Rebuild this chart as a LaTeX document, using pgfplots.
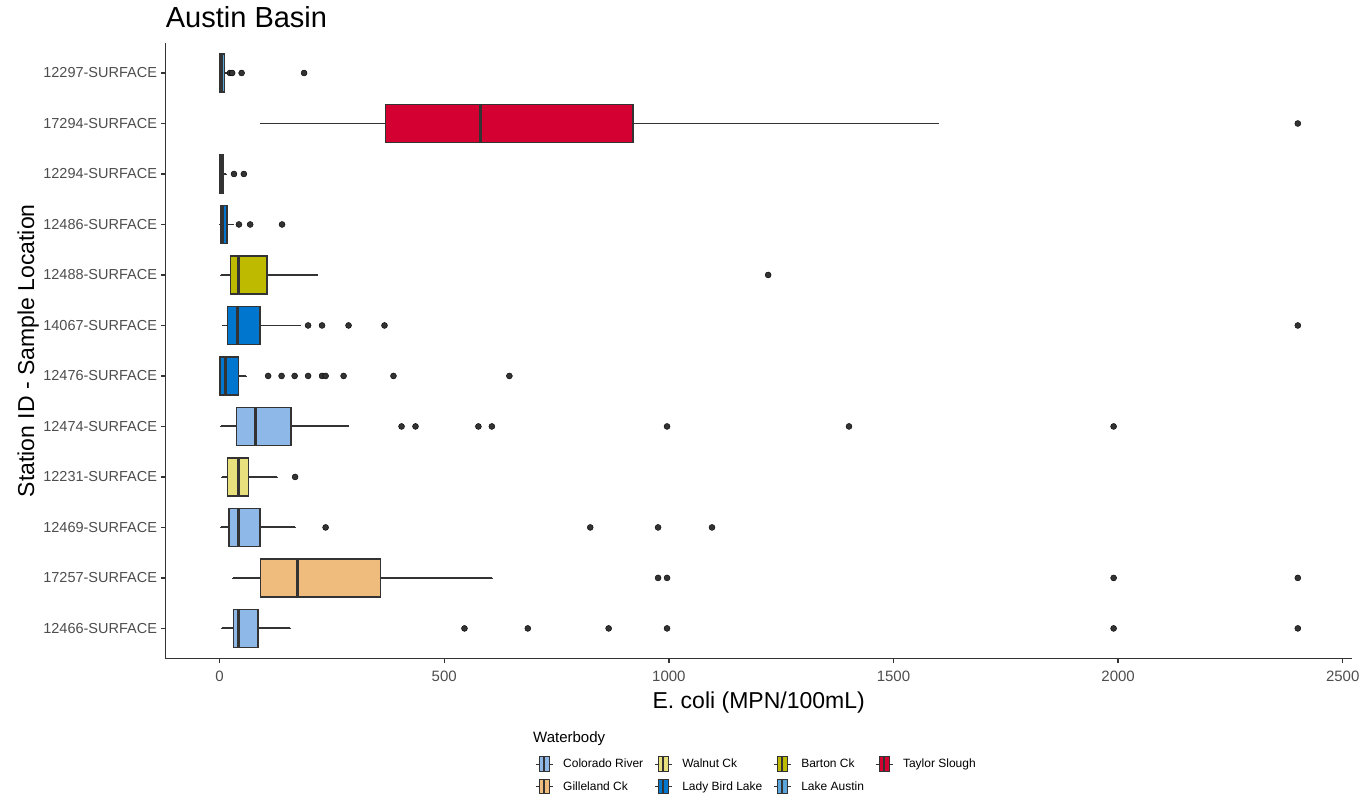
\documentclass[border=0pt]{standalone}
\usepackage{fontspec}
\setmainfont{Liberation Sans}
\usepackage{pgfplots}
\pgfplotsset{compat=1.18}
\usepgfplotslibrary{statistics}
\definecolor{ggd}{HTML}{333333}
\definecolor{gg30}{HTML}{4D4D4D}
\definecolor{cCR}{HTML}{8DB8E8}
\definecolor{cGC}{HTML}{EFBC7D}
\definecolor{cWC}{HTML}{E8E07D}
\definecolor{cLB}{HTML}{0076CE}
\definecolor{cBC}{HTML}{BDBA00}
\definecolor{cLA}{HTML}{5AA6DC}
\definecolor{cTS}{HTML}{D50032}
\pgfplotsset{
  ggbox/.style={draw=ggd, line width=1.5pt, fill=#1, forget plot,
    boxplot/box extend=0.75, boxplot/whisker extend=0.01,
    boxplot/every box/.style={line width=1.5pt},
    boxplot/every whisker/.style={line width=1.9pt},
    boxplot/every median/.style={line width=3pt}},
  ggout/.style={only marks, mark=*, mark size=3pt,
    mark options={fill=ggd, draw=none}, forget plot},
}
\begin{document}
\begin{tikzpicture}
\path (-165.7pt,-142pt) rectangle (1206.3pt,658.7pt);
\begin{axis}[
  at={(0pt,0pt)}, anchor=south west,
  scale only axis, width=1186pt, height=616pt,
  clip=false,
  xmin=-120, xmax=2520, ymin=0.4, ymax=12.6,
  axis x line*=bottom, axis y line*=left,
  axis line style={draw=ggd, line width=1.4pt, -},
  xtick={0,500,1000,1500,2000,2500},
  ytick={1,2,3,4,5,6,7,8,9,10,11,12},
  yticklabels={12466-SURFACE,17257-SURFACE,12469-SURFACE,12231-SURFACE,12474-SURFACE,12476-SURFACE,14067-SURFACE,12488-SURFACE,12486-SURFACE,12294-SURFACE,17294-SURFACE,12297-SURFACE},
  tick align=outside, major tick length=4.5pt,
  tick style={draw=ggd, line width=1.4pt},
  minor tick num=0,
  /pgf/number format/assume math mode=true,
  /pgf/number format/1000 sep={},
  ticklabel style={font=\fontsize{14.5}{17}\selectfont, text=gg30},
  yticklabel style={anchor=east, inner sep=0pt, xshift=-4pt},
  xticklabel style={anchor=north, inner sep=0pt, yshift=-8pt, font=\fontsize{15}{18}\selectfont},
  title={Austin Basin},
  title style={at={(axis description cs:0,1.0142)}, anchor=base west, inner sep=0pt, font=\fontsize{29}{34}\selectfont},
  xlabel={E. coli (MPN/100mL)},
  xlabel style={at={(axis description cs:0.5,-0.0812)}, anchor=base, inner sep=0pt, font=\fontsize{23}{27}\selectfont},
  ylabel={Station ID - Sample Location},
  ylabel style={at={(axis description cs:-0.1110,0.5)}, anchor=base, inner sep=0pt, font=\fontsize{23}{27}\selectfont},
  legend columns=4,
  legend cell align=left,
  legend style={at={(axis description cs:0.3114,-0.1575)}, anchor=north west,
    draw=none, fill=none, inner sep=0pt,
    font=\fontsize{12}{14}\selectfont, row sep=6pt,
    /tikz/every odd column/.append style={column sep=8pt},
    /tikz/every even column/.append style={column sep=9pt}},
]
% 12466 (Colorado River)
\addplot[ggbox=cCR, boxplot prepared={lower whisker=6, lower quartile=31, median=42, upper quartile=86, upper whisker=157, draw position=1}] coordinates {};
\addplot[ggout] coordinates {(545,1) (686,1) (866,1) (996,1) (1990,1) (2400,1)};
% 17257 (Gilleland Ck)
\addplot[ggbox=cGC, boxplot prepared={lower whisker=30, lower quartile=91, median=173, upper quartile=358, upper whisker=607, draw position=2}] coordinates {};
\addplot[ggout] coordinates {(976,2) (996,2) (1990,2) (2400,2)};
% 12469 (Colorado River)
\addplot[ggbox=cCR, boxplot prepared={lower whisker=2, lower quartile=21, median=42, upper quartile=90, upper whisker=168, draw position=3}] coordinates {};
\addplot[ggout] coordinates {(236,3) (825,3) (976,3) (1096,3)};
% 12231 (Walnut Ck)
\addplot[ggbox=cWC, boxplot prepared={lower whisker=5, lower quartile=18, median=42, upper quartile=64, upper whisker=128, draw position=4}] coordinates {};
\addplot[ggout] coordinates {(168,4)};
% 12474 (Colorado River)
\addplot[ggbox=cCR, boxplot prepared={lower whisker=2, lower quartile=38, median=81, upper quartile=159, upper whisker=287, draw position=5}] coordinates {};
\addplot[ggout] coordinates {(405,5) (436,5) (576,5) (606,5) (996,5) (1401,5) (1990,5)};
% 12476 (Lady Bird Lake)
\addplot[ggbox=cLB, boxplot prepared={lower whisker=1, lower quartile=1, median=12, upper quartile=42, upper whisker=59, draw position=6}] coordinates {};
\addplot[ggout] coordinates {(108,6) (138,6) (167,6) (197,6) (228,6) (236,6) (276,6) (387,6) (645,6)};
% 14067 (Lady Bird Lake)
\addplot[ggbox=cLB, boxplot prepared={lower whisker=8, lower quartile=18, median=39, upper quartile=90, upper whisker=178, draw position=7}] coordinates {};
\addplot[ggout] coordinates {(197,7) (228,7) (287,7) (367,7) (2400,7)};
% 12488 (Barton Ck)
\addplot[ggbox=cBC, boxplot prepared={lower whisker=3, lower quartile=24, median=43, upper quartile=106, upper whisker=218, draw position=8}] coordinates {};
\addplot[ggout] coordinates {(1221,8)};
% 12486 (Lady Bird Lake)
\addplot[ggbox=cLB, boxplot prepared={lower whisker=1, lower quartile=2, median=7, upper quartile=17, upper whisker=30, draw position=9}] coordinates {};
\addplot[ggout] coordinates {(43,9) (68,9) (139,9)};
% 12294 (Lake Austin)
\addplot[ggbox=cLA, boxplot prepared={lower whisker=1, lower quartile=1, median=4, upper quartile=9, upper whisker=15, draw position=10}] coordinates {};
\addplot[ggout] coordinates {(32,10) (54,10)};
% 17294 (Taylor Slough)
\addplot[ggbox=cTS, boxplot prepared={lower whisker=93, lower quartile=369, median=581, upper quartile=920, upper whisker=1600, draw position=11}] coordinates {};
\addplot[ggout] coordinates {(2400,11)};
% 12297 (Lake Austin)
\addplot[ggbox=cLA, boxplot prepared={lower whisker=1, lower quartile=0.5, median=5, upper quartile=11, upper whisker=19, draw position=12}] coordinates {};
\addplot[ggout] coordinates {(23,12) (28,12) (49,12) (188,12)};
% legend
\addlegendimage{legend image code/.code={\draw[draw=ggd, line width=1pt] (0pt,0pt) -- (17pt,0pt); \draw[draw=ggd, line width=1pt, fill=cCR] (3.5pt,-7.3pt) rectangle (13.5pt,7.3pt); \draw[draw=ggd, line width=1.8pt] (8.5pt,-7.3pt) -- (8.5pt,7.3pt);}}
\addlegendentry{Colorado River}
\addlegendimage{legend image code/.code={\draw[draw=ggd, line width=1pt] (0pt,0pt) -- (17pt,0pt); \draw[draw=ggd, line width=1pt, fill=cWC] (3.5pt,-7.3pt) rectangle (13.5pt,7.3pt); \draw[draw=ggd, line width=1.8pt] (8.5pt,-7.3pt) -- (8.5pt,7.3pt);}}
\addlegendentry{Walnut Ck}
\addlegendimage{legend image code/.code={\draw[draw=ggd, line width=1pt] (0pt,0pt) -- (17pt,0pt); \draw[draw=ggd, line width=1pt, fill=cBC] (3.5pt,-7.3pt) rectangle (13.5pt,7.3pt); \draw[draw=ggd, line width=1.8pt] (8.5pt,-7.3pt) -- (8.5pt,7.3pt);}}
\addlegendentry{Barton Ck}
\addlegendimage{legend image code/.code={\draw[draw=ggd, line width=1pt] (0pt,0pt) -- (17pt,0pt); \draw[draw=ggd, line width=1pt, fill=cTS] (3.5pt,-7.3pt) rectangle (13.5pt,7.3pt); \draw[draw=ggd, line width=1.8pt] (8.5pt,-7.3pt) -- (8.5pt,7.3pt);}}
\addlegendentry{Taylor Slough}
\addlegendimage{legend image code/.code={\draw[draw=ggd, line width=1pt] (0pt,0pt) -- (17pt,0pt); \draw[draw=ggd, line width=1pt, fill=cGC] (3.5pt,-7.3pt) rectangle (13.5pt,7.3pt); \draw[draw=ggd, line width=1.8pt] (8.5pt,-7.3pt) -- (8.5pt,7.3pt);}}
\addlegendentry{Gilleland Ck}
\addlegendimage{legend image code/.code={\draw[draw=ggd, line width=1pt] (0pt,0pt) -- (17pt,0pt); \draw[draw=ggd, line width=1pt, fill=cLB] (3.5pt,-7.3pt) rectangle (13.5pt,7.3pt); \draw[draw=ggd, line width=1.8pt] (8.5pt,-7.3pt) -- (8.5pt,7.3pt);}}
\addlegendentry{Lady Bird Lake}
\addlegendimage{legend image code/.code={\draw[draw=ggd, line width=1pt] (0pt,0pt) -- (17pt,0pt); \draw[draw=ggd, line width=1pt, fill=cLA] (3.5pt,-7.3pt) rectangle (13.5pt,7.3pt); \draw[draw=ggd, line width=1.8pt] (8.5pt,-7.3pt) -- (8.5pt,7.3pt);}}
\addlegendentry{Lake Austin}
\node[anchor=base west, inner sep=0pt, font=\fontsize{15}{18}\selectfont] at (axis description cs:0.3097,-0.1364) {Waterbody};
\end{axis}
\end{tikzpicture}
\end{document}
